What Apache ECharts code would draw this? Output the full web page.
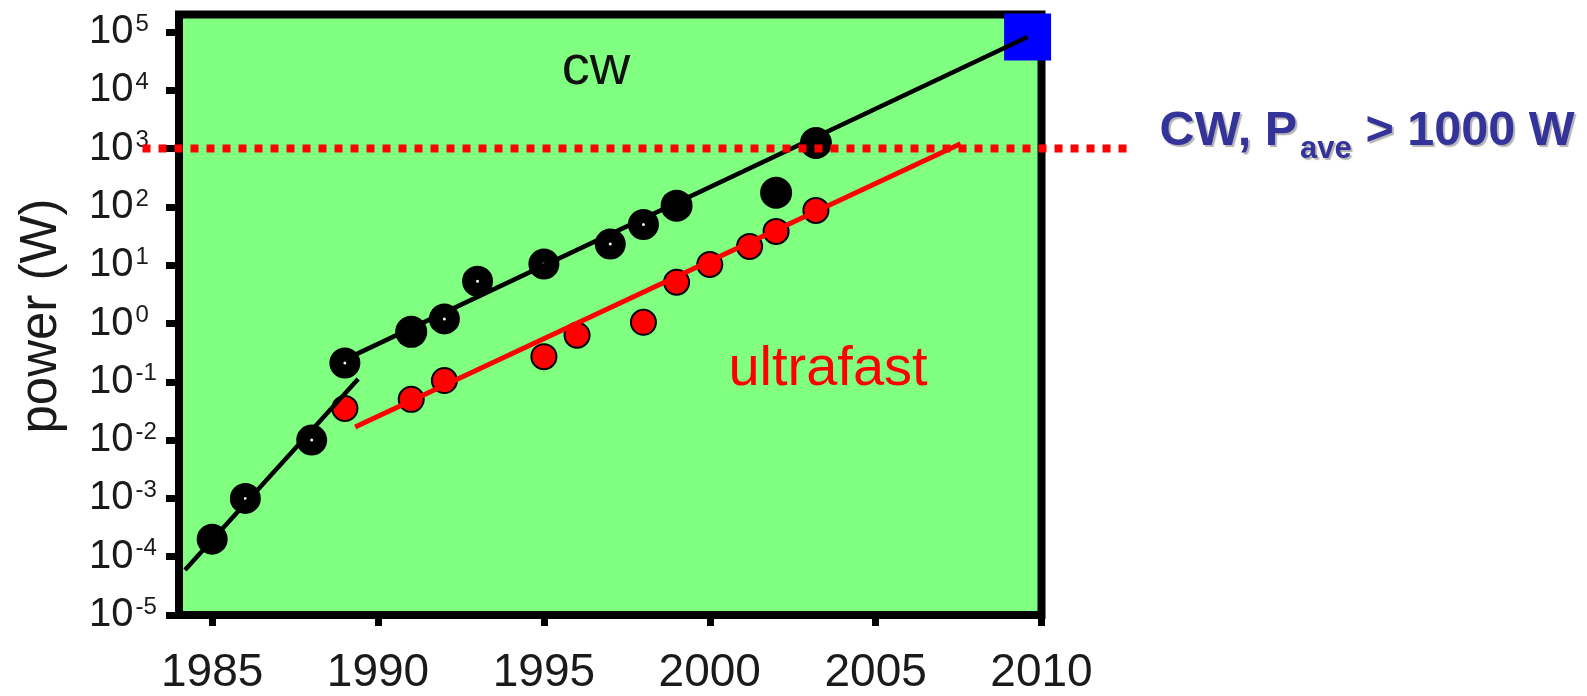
<!DOCTYPE html>
<html>
<head>
<meta charset="utf-8">
<script src="https://cdn.jsdelivr.net/npm/echarts@6/dist/echarts.min.js"></script>
<style>
  html, body { margin: 0; padding: 0; background: #ffffff; }
  #chart { width: 1587px; height: 696px; }
</style>
</head>
<body>
<div id="chart"></div>
<script>
// Axis ticks
const yearTicks = [1985, 1990, 1995, 2000, 2005, 2010];
const decadeExponents = [-5, -4, -3, -2, -1, 0, 1, 2, 3, 4, 5];

// CW fiber laser output power (W), open-centre and solid markers
const cwOpenYears = [1985, 1986, 1988, 1989, 1992, 1993, 1995, 1997, 1998];
const cwOpenPower = [2e-4, 1e-3, 1e-2, 0.21, 1.2, 5.3, 10.5, 23, 50];
const cwSolidYears = [1991, 1999, 2002, 2003.2];
const cwSolidPower = [0.72, 105, 175, 1250];

// Ultrafast fiber laser average power (W)
const ultrafastYears = [1989, 1991, 1992, 1995, 1996, 1998, 1999, 2000, 2001.2, 2002, 2003.2];
const ultrafastPower = [0.035, 0.05, 0.105, 0.27, 0.63, 1.05, 5.1, 10.3, 21, 38, 87];

// Trend lines
const cwTrendEarlyYears = [1984.18, 1989.4];
const cwTrendEarlyPower = [5.9e-5, 0.112];
const cwTrendLateYears = [1989.03, 2009.58];
const cwTrendLatePower = [0.245, 8.2e4];
const ultrafastTrendYears = [1989.31, 2007.56];
const ultrafastTrendPower = [0.0168, 1216];

// Projected CW target and the 1000 W threshold
const goalYears = [2009.58];
const goalPower = [8.2e4];
const thresholdYears = [1982.9, 2012.6];
const thresholdPower = [1000, 1000];

const FONT = '"Liberation Sans", Arial, Helvetica, sans-serif';

// power values are placed on a decade (log10) value axis
function points(years, power) {
  return years.map((y, i) => [y, Math.log10(power[i])]);
}

const chart = echarts.init(document.getElementById('chart'), null, { renderer: 'canvas' });

const annotationStyle = {
  fontWeight: 'bold', fontFamily: FONT, fill: '#333399',
  align: 'left', verticalAlign: 'middle', textAlign: 'left', textVerticalAlign: 'middle',
  textShadowColor: '#b4b4b4', textShadowOffsetX: 2, textShadowOffsetY: 2, textShadowBlur: 1
};

const texts = [
  {
    id: 'yname', type: 'text', x: 41.5, y: 316, rotation: Math.PI / 2, silent: true,
    style: {
      text: 'power (W)', fontSize: 51, fontFamily: FONT, fill: '#1a1a1a',
      align: 'center', verticalAlign: 'middle', textAlign: 'center', textVerticalAlign: 'middle'
    }
  },
  {
    id: 'cwLabel', type: 'text', x: 596, y: 69, silent: true,
    style: {
      text: 'cw', fontSize: 56, fontFamily: FONT, fill: '#111111',
      align: 'center', verticalAlign: 'middle', textAlign: 'center', textVerticalAlign: 'middle'
    }
  },
  {
    id: 'ufLabel', type: 'text', x: 828, y: 370, silent: true,
    style: {
      text: 'ultrafast', fontSize: 56, fontFamily: FONT, fill: '#ff0000',
      align: 'center', verticalAlign: 'middle', textAlign: 'center', textVerticalAlign: 'middle'
    }
  },
  { id: 'note1', type: 'text', x: 1159.6, y: 131.5, silent: true,
    style: Object.assign({ text: 'CW, P', fontSize: 48.5 }, annotationStyle) },
  { id: 'note2', type: 'text', x: 1300, y: 149, silent: true,
    style: Object.assign({ text: 'ave', fontSize: 31 }, annotationStyle) },
  { id: 'note3', type: 'text', x: 1352, y: 131.5, silent: true,
    style: Object.assign({ text: ' > 1000 W', fontSize: 48.5 }, annotationStyle) }
];

const option = {
  animation: false,
  backgroundColor: '#ffffff',
  grid: {
    left: 179, right: 545.5, top: 14.5, bottom: 79,
    show: true,
    backgroundColor: '#80ff80',
    borderColor: '#000000',
    borderWidth: 8
  },
  xAxis: {
    type: 'value',
    min: 1984, max: 2010,
    axisLine: { show: false, onZero: false },
    splitLine: { show: false },
    axisTick: {
      show: true, customValues: yearTicks, length: 11,
      lineStyle: { color: '#000000', width: 7 }
    },
    axisLabel: {
      customValues: yearTicks,
      formatter: v => String(Math.round(v)),
      fontSize: 46, fontFamily: FONT, color: '#1a1a1a', margin: 35
    }
  },
  yAxis: {
    type: 'value',
    min: -5, max: 5.3, interval: 1,
    axisLine: { show: false, onZero: false },
    splitLine: { show: false },
    axisTick: {
      show: true, customValues: decadeExponents, length: 13,
      lineStyle: { color: '#000000', width: 7 }
    },
    axisLabel: {
      customValues: decadeExponents,
      align: 'left', margin: 90,
      formatter: v => '{b|10}{s|' + Math.round(v) + '}',
      rich: {
        b: { fontSize: 40, lineHeight: 40, fontFamily: FONT, color: '#1a1a1a' },
        s: { fontSize: 24, lineHeight: 26, fontFamily: FONT, color: '#1a1a1a', verticalAlign: 'top', padding: [0, 0, 0, 2] }
      }
    }
  },
  series: [
    {
      name: 'CW trend (early)', type: 'line', symbol: 'none', silent: true,
      data: points(cwTrendEarlyYears, cwTrendEarlyPower),
      lineStyle: { color: '#000000', width: 4.5 }
    },
    {
      name: 'CW trend', type: 'line', symbol: 'none', silent: true,
      data: points(cwTrendLateYears, cwTrendLatePower),
      lineStyle: { color: '#000000', width: 4.5 }
    },
    {
      name: 'ultrafast trend', type: 'line', symbol: 'none', silent: true,
      data: points(ultrafastTrendYears, ultrafastTrendPower),
      lineStyle: { color: '#ff0000', width: 5 }
    },
    {
      name: 'ultrafast', type: 'scatter', symbol: 'circle', symbolSize: 25, silent: true,
      data: points(ultrafastYears, ultrafastPower),
      itemStyle: { color: '#ff0000', borderColor: '#000000', borderWidth: 2, opacity: 1 }
    },
    {
      name: 'CW', type: 'scatter', symbol: 'circle', symbolSize: 17, silent: true,
      data: points(cwOpenYears, cwOpenPower),
      itemStyle: { color: '#e8ffe8', borderColor: '#000000', borderWidth: 14, opacity: 1 }
    },
    {
      name: 'CW (solid)', type: 'scatter', symbol: 'circle', symbolSize: 32, silent: true,
      data: points(cwSolidYears, cwSolidPower),
      itemStyle: { color: '#000000', opacity: 1 }
    },
    {
      name: 'target', type: 'scatter', symbol: 'rect', symbolSize: 47, silent: true, clip: false,
      data: points(goalYears, goalPower),
      itemStyle: { color: '#0000ff', opacity: 1 }
    }
  ],
  graphic: texts
};

chart.setOption(option);

// The dotted threshold runs past the plot frame, so it is laid out with the
// grid's own coordinate conversion and drawn as an unclipped polyline.
const thresholdPixels = points(thresholdYears, thresholdPower)
  .map(p => chart.convertToPixel({ gridIndex: 0 }, p));

chart.setOption({
  graphic: texts.concat([{
    id: 'threshold', type: 'polyline', silent: true, z: 5,
    shape: { points: thresholdPixels },
    style: { stroke: '#ff0000', lineWidth: 8, lineDash: [8, 8], lineCap: 'butt', fill: null }
  }])
});
</script>
</body>
</html>
